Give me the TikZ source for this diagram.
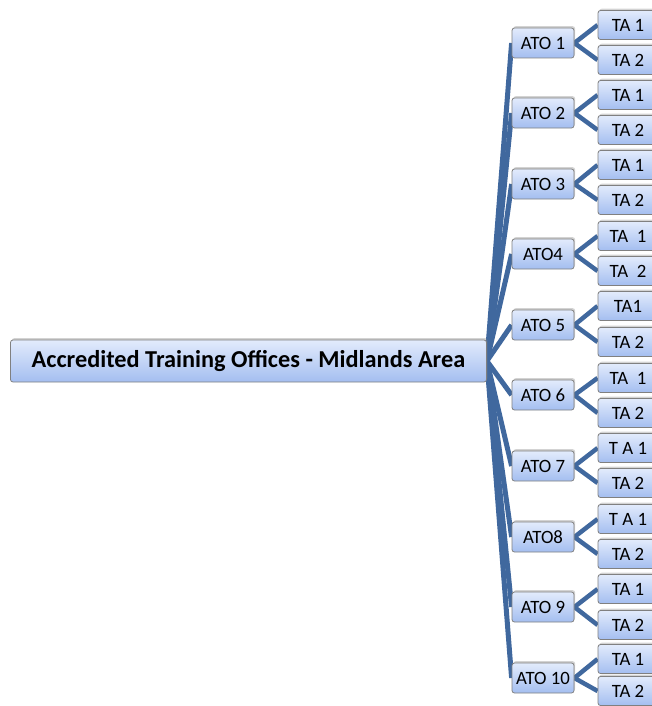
\documentclass[tikz,border=0pt]{standalone}
\usepackage{fontspec}
\setmainfont{Carlito}
\usetikzlibrary{shadows,backgrounds}
\definecolor{boxtop}{RGB}{226,235,252}
\definecolor{boxbot}{RGB}{164,190,240}
\definecolor{boxline}{RGB}{128,128,128}
\definecolor{linkblue}{RGB}{64,104,158}
\tikzset{
  mapbox/.style={draw=boxline, line width=0.8pt, rounded corners=2.5pt,
    top color=boxtop, bottom color=boxbot, inner sep=0pt, align=center,
    drop shadow={opacity=0.35, shadow xshift=1.2pt, shadow yshift=1.8pt}},
  rootbox/.style={mapbox, minimum width=476pt, minimum height=42pt,
    font=\fontsize{24.3}{27}\selectfont\bfseries},
  atobox/.style={mapbox, minimum width=62pt, minimum height=30pt,
    font=\fontsize{18.8}{21}\selectfont},
  tabox/.style={mapbox, minimum width=60pt, minimum height=29pt,
    font=\fontsize{18.8}{21}\selectfont},
  trunk/.style={draw=linkblue, line width=5pt},
  twig/.style={draw=linkblue, line width=4.5pt}
}
\begin{document}
\begin{tikzpicture}[x=1pt,y=-1pt]
\useasboundingbox (0,0) rectangle (652,706);
\node[rootbox] (root) at (248.5,361) {Accredited Training Offices - Midlands Area};
% office nodes with their two training areas each
\foreach \i/\ay/\ta/\tb/\la/\lb/\lc in {
  1/43/25/60/{ATO 1}/{TA 1}/{TA 2},
  2/113/95/130/{ATO 2}/{TA 1}/{TA 2},
  3/184/165/200/{ATO 3}/{TA 1}/{TA 2},
  4/254/236/271/{ATO4}/{TA\ \ 1}/{TA\ \ 2},
  5/325/306/342/{ATO 5}/{TA1}/{TA 2},
  6/395/378/413/{ATO 6}/{TA\ \ 1}/{TA 2},
  7/466/448/483/{ATO 7}/{T A 1}/{TA 2},
  8/537/519/554/{ATO8}/{T A 1}/{TA 2},
  9/607/589/625/{ATO 9}/{TA 1}/{TA 2},
  10/678/659/691/{ATO 10}/{TA 1}/{TA 2}} {
  \node[atobox] (ato\i) at (543,\ay) {\la};
  \node[tabox] (ta\i a) at (628,\ta) {\lb};
  \node[tabox] (ta\i b) at (628,\tb) {\lc};
  \begin{scope}[on background layer]
    \draw[trunk] (root.east) -- (ato\i.west);
    \draw[twig] (ato\i.east) -- (ta\i a.west);
    \draw[twig] (ato\i.east) -- (ta\i b.west);
  \end{scope}
}
\end{tikzpicture}
\end{document}
